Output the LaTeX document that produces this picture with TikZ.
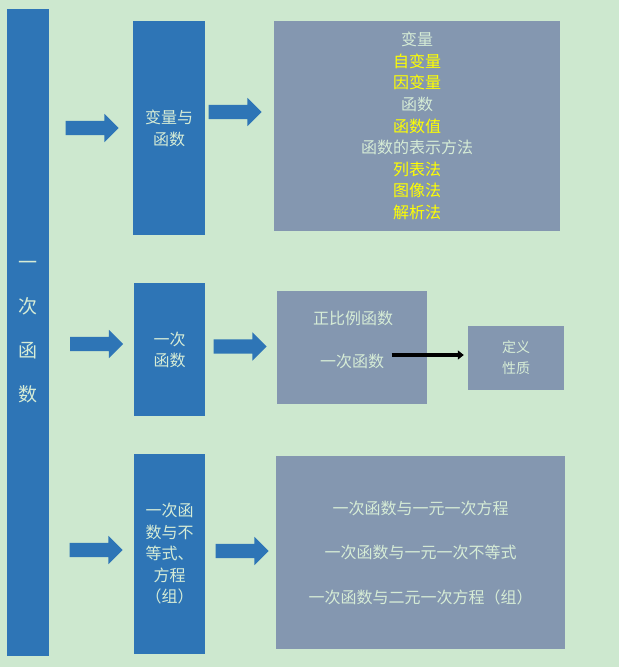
\documentclass[tikz,border=0pt]{standalone}
\usepackage{fontspec}
\setmainfont{Noto Sans CJK SC}
\usetikzlibrary{shapes.arrows,arrows.meta}
\definecolor{bgmint}{RGB}{205,232,207}
\definecolor{barblue}{RGB}{46,117,182}
\definecolor{slate}{RGB}{132,151,176}
\definecolor{minttxt}{RGB}{214,236,214}
\definecolor{hiyel}{RGB}{255,255,0}

\begin{document}
\begin{tikzpicture}[x=1pt, y=-1pt,
  fs/.style={font=\fontsize{#1}{#1}\selectfont},
  bluebox/.style={fill=barblue, inner sep=0pt, text=minttxt, align=center},
  greybox/.style={fill=slate, inner sep=0pt, text=minttxt, align=center},
  blk/.style={single arrow, fill=barblue, inner xsep=0pt, inner ysep=7pt,
    minimum height=53pt, single arrow head extend=7pt},
  hi/.style={text=hiyel}]
\useasboundingbox[fill=bgmint] (0,0) rectangle (619,667);
% left bar
\node[bluebox, minimum width=42pt, minimum height=647pt,
  font=\fontsize{19}{44}\selectfont] (bar) at (28,332.5) {一\\次\\函\\数};
% middle column
\node[bluebox, minimum width=72pt, minimum height=214pt,
  font=\fontsize{16}{22}\selectfont] (bl1) at (169,128) {变量与\\函数};
\node[bluebox, minimum width=71pt, minimum height=133pt,
  font=\fontsize{16}{21}\selectfont] (bl2) at (169.5,349.5) {一次\\函数};
\node[bluebox, minimum width=71pt, minimum height=200pt,
  font=\fontsize{16}{21.5}\selectfont] (bl3) at (169.5,554) {一次函\\数与不\\等式、\\方程\\（组）};
% block arrows
\node[blk] (a1) at (88.5,128) {};
\node[blk] (a2) at (231.5,112) {};
\node[blk] (a3) at (93,344) {};
\node[blk] (a4) at (236.5,346.5) {};
\node[blk] (a5) at (92.5,550) {};
\node[blk] (a6) at (238.5,551) {};
% right column
\node[greybox, minimum width=286pt, minimum height=210pt,
  font=\fontsize{16}{21.6}\selectfont] (g1) at (417,126)
  {变量\\\textcolor{hiyel}{自变量}\\\textcolor{hiyel}{因变量}\\函数\\\textcolor{hiyel}{函数值}\\
   函数的表示方法\\\textcolor{hiyel}{列表法}\\\textcolor{hiyel}{图像法}\\\textcolor{hiyel}{解析法}};
\node[greybox, minimum width=150pt, minimum height=113pt] (g2) at (352,347.5) {};
\node[text=minttxt, fs=16] (zb) at (353,318) {正比例函数};
\node[text=minttxt, fs=16] (yc) at (352,361) {一次函数};
\node[greybox, minimum width=96pt, minimum height=64pt,
  font=\fontsize{14}{21}\selectfont] (dx) at (516,358) {定义\\性质};
\draw[line width=3.5pt, -{Triangle[length=6pt,width=9pt]}, shorten <=4pt, shorten >=4pt]
  (yc.east |- 0,355) -- (dx.west |- 0,355);
\node[greybox, minimum width=289pt, minimum height=193pt,
  font=\fontsize{16}{44.5}\selectfont] (g3) at (420.5,552.5)
  {一次函数与一元一次方程\\一次函数与一元一次不等式\\一次函数与二元一次方程（组）};
\end{tikzpicture}
\end{document}
